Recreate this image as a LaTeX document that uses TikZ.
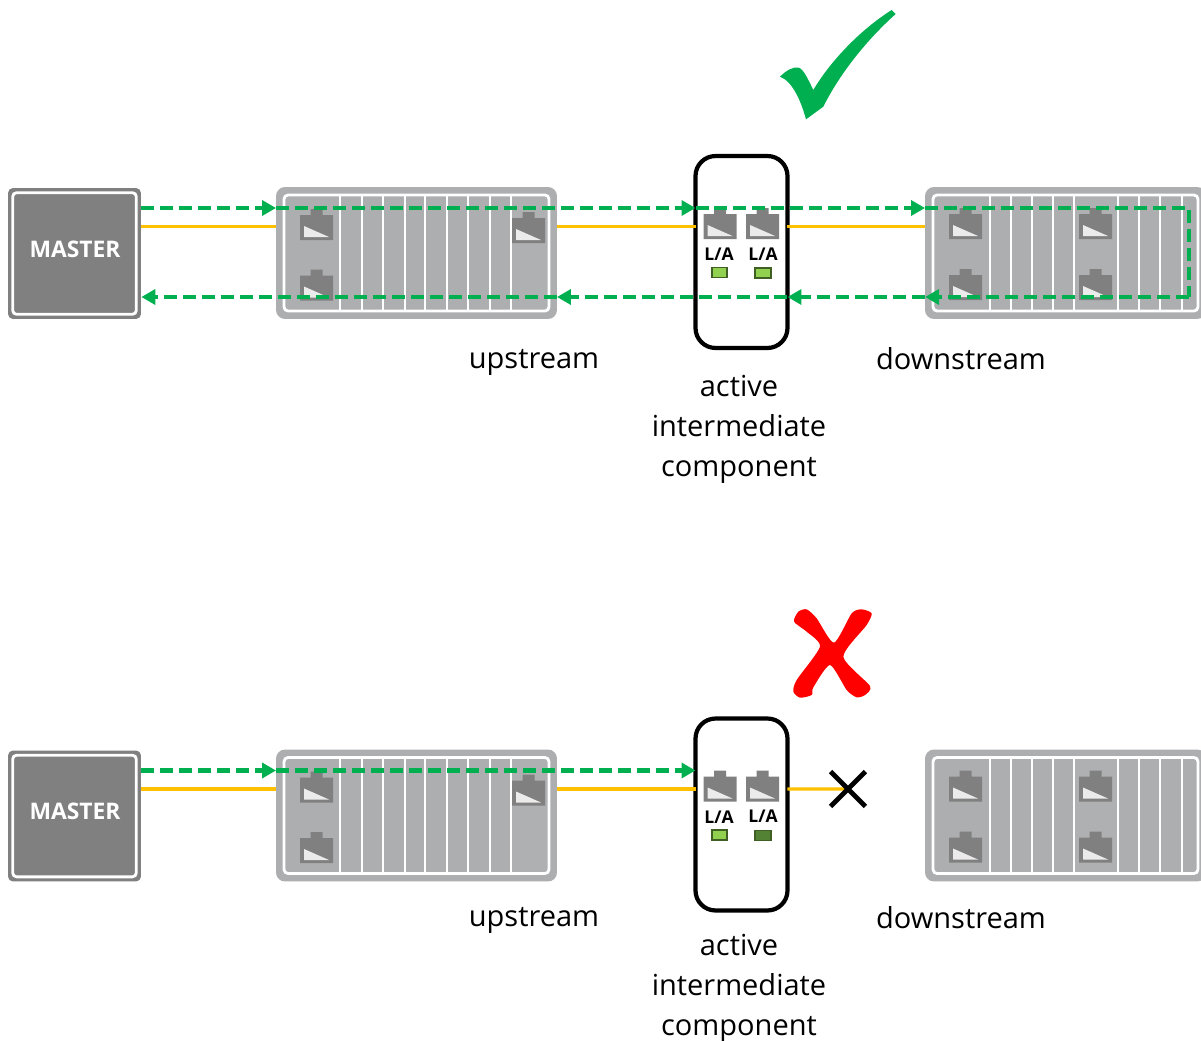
\documentclass[tikz,border=0pt]{standalone}
\usepackage{fontspec}
\setmainfont{Open Sans}
\usetikzlibrary{arrows.meta,calc,shapes.misc}
\definecolor{modgray}{HTML}{ADAEB0}
\definecolor{portgray}{HTML}{808080}
\definecolor{flowgreen}{HTML}{00B050}
\definecolor{linkyellow}{HTML}{FFC000}
\definecolor{ledon}{HTML}{92D050}
\definecolor{ledoff}{HTML}{548235}
\definecolor{ledrim}{HTML}{3F5F25}
\tikzset{
devbox/.style={rectangle,fill=modgray,rounded corners=0.18cm,inner sep=0,outer sep=0,minimum width=5.62cm,minimum height=2.64cm},
rimline/.style={white,line width=1.6pt,rounded corners=0.08cm},
slotline/.style={white,line width=1pt},
flowline/.style={flowgreen,line width=2.5pt,dash pattern=on 7.4pt off 3.4pt,-{Triangle[length=0.28cm,width=0.3cm,sep=0pt]}},
linkline/.style={linkyellow,line width=1.8pt},
pics/rjport/.style={code={
\fill[portgray] (-16.5,-12.5) rectangle (16.5,12.5) (-6,-18.5) rectangle (6,-12.5);
\fill[white!92!black] (-12.5,-1.5) -- (-12.5,9.5) -- (12.5,9.5) -- cycle;
}},
lamp/.style={rectangle,draw=ledrim,line width=1pt,inner sep=0,minimum width=0.31cm,minimum height=0.2cm},
latext/.style={font=\fontsize{10}{12}\selectfont\bfseries,inner sep=0},
captext/.style={font=\fontsize{16.5}{22.76}\selectfont,align=center,inner sep=0}
}
\begin{document}
\begin{tikzpicture}[x=0.02cm,y=-0.02cm]
\useasboundingbox (0,0) rectangle (1201,1041);
\foreach \r/\dy/\ledtwo/\ty in {t/0/ledon/0,b/562.5/ledoff/-4}{
\begin{scope}[shift={(0,\dy)}]
\node[rectangle,fill=portgray,rounded corners=0.1cm,inner sep=0,minimum width=2.66cm,minimum height=2.62cm] (\r master) at (74.5,253.5) {};
\draw[rimline] ($(\r master.north west)+(5,5)$) rectangle ($(\r master.south east)+(-5,-5)$);
\node[white,font=\fontsize{13}{14}\selectfont\bfseries,inner sep=0] (\r mastertext) at (75,249) {MASTER};
\node[devbox] (\r modA) at (416.5,253) {};
\node[devbox] (\r modB) at (1065.5,253) {};
\fill[modgray!97!white] (511,195) rectangle (549,311);
\fill[modgray!97!white] (1074,195) rectangle (1118,311);
\draw[rimline] ($(\r modA.north west)+(8,8)$) rectangle ($(\r modA.south east)+(-8,-8)$);
\draw[rimline] ($(\r modB.north west)+(8,8)$) rectangle ($(\r modB.south east)+(-8,-8)$);
\foreach \x in {340,362,383,405,425,447,468,490,511}
\draw[slotline] (\x,195) -- (\x,311);
\foreach \x in {990,1011,1032,1053,1074,1118,1139,1160,1182}
\draw[slotline] (\x,195) -- (\x,311);
\foreach \x/\y in {316.5/227.5,316.5/288,528.5/230.5,965.5/226.5,965.5/287.5,1095.5/226.5,1095.5/287.5}
\pic at (\x,\y) {rjport};
\node[rectangle,draw=black,line width=2.4pt,rounded corners=0.4cm,inner sep=0,outer sep=0,minimum width=1.84cm,minimum height=3.84cm] (\r ibox) at (741.5,252) {};
\pic at (720,226.5) {rjport};
\pic at (762.5,226.5) {rjport};
\node[latext] (\r la) at (719,254.5) {L/A};
\node[latext] (\r lb) at (763,254) {L/A};
\node[lamp,fill=ledon] (\r leda) at (719.5,272.5) {};
\node[lamp,fill=\ledtwo] (\r ledb) at (763,273) {};
\node[captext] (\r up) at (534,362+\ty) {upstream};
\node[captext] (\r down) at (961,359+\ty) {downstream};
\node[captext] (\r act) at (739,429.5+\ty) {active\\intermediate\\component};
\coordinate (\r gt) at (0,208);
\coordinate (\r gb) at (0,297);
\coordinate (\r yl) at (0,226.5);
\draw[linkline] (\r master.east |- \r yl) -- (\r modA.west |- \r yl);
\draw[linkline] (\r modA.east |- \r yl) -- (\r ibox.west |- \r yl);
\end{scope}
}
\draw[linkline] (tibox.east |- tyl) -- (tmodB.west |- tyl);
\coordinate (cutend) at (845,789);
\draw[linkline] (bibox.east |- byl) -- (cutend);
\node[cross out,draw=black,line width=2.8pt,inner sep=0,minimum size=0.6cm] (cut) at (848,789) {};
\foreach \r in {t,b}{
\draw[flowline] (\r master.east |- \r gt) -- (\r modA.west |- \r gt);
\draw[flowline] (\r modA.west |- \r gt) -- (\r ibox.west |- \r gt);
}
\draw[flowline] (tibox.west |- tgt) -- (tmodB.west |- tgt);
\coordinate (turnt) at (1189,208);
\coordinate (turnb) at (1189,297);
\draw[flowline,-] (tmodB.west |- tgt) -- (turnt) -- (turnb);
\draw[flowline] (turnb) -- (tmodB.west |- tgb);
\draw[flowline] (tmodB.west |- tgb) -- (tibox.east |- tgb);
\draw[flowline] (tibox.east |- tgb) -- (tmodA.east |- tgb);
\draw[flowline] (tmodA.east |- tgb) -- (tmaster.east |- tgb);
% marks
\begin{scope}[shift={(770,0)},scale=1/3]
\fill[flowgreen] (30,230) .. controls (50,210) and (70,200) .. (85,203) .. controls (100,205) and (115,240) .. (130,270) .. controls (180,185) and (270,90) .. (365,30) -- (377,42) .. controls (290,120) and (210,220) .. (160,320) -- (108,358) .. controls (95,310) and (70,245) .. (30,230) -- cycle;
\end{scope}
\begin{scope}[shift={(680,600)},scale=1/3]
\fill[red] plot[smooth cycle,tension=0.4] coordinates {(342,65) (355,35) (380,28) (410,55) (462,128) (515,40) (545,28) (575,40) (560,75) (490,170) (570,258) (555,285) (530,292) (500,270) (450,195) (400,262) (395,285) (360,293) (340,275) (350,240) (420,140) (380,95)};
\end{scope}
\end{tikzpicture}
\end{document}
